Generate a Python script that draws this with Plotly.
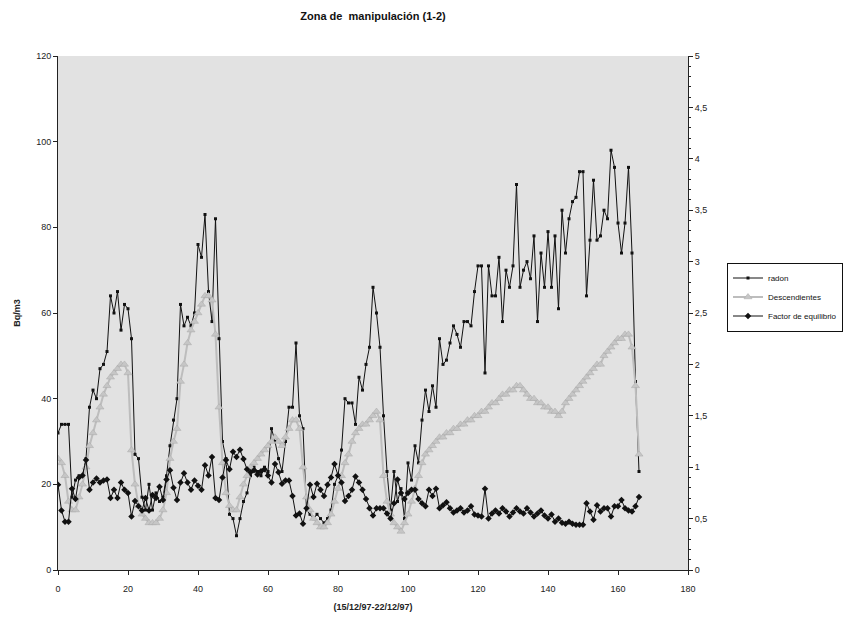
import plotly.graph_objects as go

radon = [32, 34, 34, 34, 17, 21, 22, 22, 26, 38, 42, 40, 47, 48, 51, 64, 60, 65, 56, 62,
         61, 54, 27, 26, 17, 14, 20, 14, 18, 16, 17, 22, 29, 35, 40, 62, 57, 59, 57, 60,
         76, 73, 83, 65, 58, 82, 54, 30, 26, 13, 12, 8, 12, 16, 18, 22, 24, 23, 22, 24,
         23, 33, 30, 26, 23, 30, 38, 38, 53, 36, 33, 14, 13, 12, 13, 12, 11, 12, 14, 20,
         22, 28, 40, 39, 39, 34, 45, 42, 48, 52, 66, 60, 52, 36, 23, 14, 23, 16, 19, 12,
         25, 21, 29, 25, 35, 42, 37, 43, 38, 54, 48, 49, 53, 57, 55, 52, 58, 58, 57, 65,
         71, 71, 46, 71, 64, 64, 73, 58, 70, 66, 71, 90, 66, 70, 72, 68, 78, 58, 74, 66,
         79, 66, 78, 61, 84, 74, 82, 86, 87, 93, 93, 64, 77, 91, 77, 78, 84, 82, 98, 94,
         81, 74, 81, 94, 74, 44, 23]

descendientes = [26, 25, 22, 16, 14, 14, 17, 20, 24, 29, 32, 35, 38, 41, 43, 45, 46, 47, 48, 48,
                 46, 28, 20, 15, 13, 12, 11, 11, 11, 12, 14, 18, 26, 30, 33, 44, 48, 53, 56, 58,
                 60, 62, 64, 64, 63, 55, 38, 25, 18, 15, 14, 14, 17, 20, 22, 24, 25, 26, 27, 28,
                 29, 30, 31, 30, 29, 31, 33, 35, 35, 33, 24, 17, 14, 12, 11, 10, 10, 11, 13, 16,
                 19, 22, 25, 27, 30, 32, 33, 34, 34, 35, 36, 37, 35, 22, 16, 13, 11, 10, 9, 11,
                 13, 16, 19, 22, 25, 27, 28, 29, 30, 31, 31, 32, 32, 33, 33, 34, 34, 35, 35, 36,
                 36, 37, 37, 38, 39, 39, 40, 41, 41, 42, 42, 43, 43, 42, 41, 40, 40, 39, 39, 38,
                 38, 37, 37, 36, 37, 39, 40, 41, 42, 43, 44, 45, 46, 47, 48, 48, 50, 51, 52, 53,
                 54, 54, 55, 55, 52, 43, 27]

factor = [0.83, 0.58, 0.47, 0.47, 0.79, 0.69, 0.90, 0.92, 1.07, 0.78, 0.85, 0.89, 0.85, 0.87, 0.88, 0.70, 0.78, 0.70, 0.85, 0.78,
          0.75, 0.52, 0.67, 0.62, 0.58, 0.70, 0.58, 0.73, 0.70, 0.81, 0.68, 0.88, 0.97, 0.80, 0.68, 0.85, 0.94, 0.85, 0.78, 0.87,
          0.82, 0.78, 1.02, 0.92, 1.10, 0.70, 0.68, 0.90, 1.07, 0.98, 1.15, 1.10, 1.17, 1.08, 0.98, 0.95, 0.97, 0.93, 0.96, 0.98,
          0.92, 0.85, 1.03, 0.95, 0.84, 0.87, 0.87, 0.72, 0.53, 0.55, 0.45, 0.60, 0.83, 0.71, 0.84, 0.78, 0.72, 0.83, 0.90, 1.03,
          0.92, 0.85, 0.67, 0.72, 0.78, 0.91, 0.85, 0.78, 0.69, 0.60, 0.53, 0.60, 0.60, 0.60, 0.55, 0.50, 0.65, 0.88, 0.75, 0.69,
          0.75, 0.78, 0.78, 0.69, 0.65, 0.62, 0.78, 0.72, 0.79, 0.60, 0.63, 0.66, 0.60, 0.56, 0.58, 0.60, 0.56, 0.58, 0.62, 0.54,
          0.53, 0.52, 0.79, 0.50, 0.55, 0.58, 0.55, 0.60, 0.57, 0.52, 0.56, 0.60, 0.57, 0.55, 0.60, 0.56, 0.52, 0.55, 0.58, 0.53,
          0.50, 0.54, 0.47, 0.50, 0.46, 0.45, 0.47, 0.45, 0.44, 0.44, 0.44, 0.65, 0.57, 0.49, 0.63, 0.57, 0.60, 0.60, 0.52, 0.62,
          0.62, 0.68, 0.60, 0.58, 0.57, 0.62, 0.71]

x_r = list(range(len(radon)))
x_d = list(range(len(descendientes)))
x_f = list(range(len(factor)))

FONT = "Liberation Sans"
W, H = 851, 619

fig = go.Figure()
fig.add_trace(go.Scatter(
    x=x_r, y=radon, name="radon", mode="lines+markers",
    line=dict(color="#111111", width=1),
    marker=dict(symbol="square", size=3, color="#111111"),
))
fig.add_trace(go.Scatter(
    x=x_d, y=descendientes, name="Descendientes", mode="lines+markers",
    line=dict(color="#bdbdbd", width=2),
    marker=dict(symbol="triangle-up", size=7, color="#c6c6c6",
                line=dict(color="#a8a8a8", width=0.5)),
))
fig.add_trace(go.Scatter(
    x=x_f, y=factor, name="Factor de equilibrio", mode="lines+markers", yaxis="y2",
    line=dict(color="#111111", width=1),
    marker=dict(symbol="diamond", size=5, color="#111111"),
))

axis_common = dict(
    showgrid=False, zeroline=False, showline=True, linecolor="#222222", linewidth=1,
    ticks="outside", ticklen=4, tickcolor="#222222", automargin=False,
    tickfont=dict(family=FONT, size=9, color="#222222"),
)

fig.update_layout(
    width=W, height=H,
    margin=dict(l=58, r=163, t=56, b=49, autoexpand=False),
    paper_bgcolor="white",
    plot_bgcolor="#e2e2e2",
    separators=", ",
    title=dict(text="<b>Zona de  manipulación (1-2)</b>", x=373/W, xanchor="center",
               y=1 - 16/H, yanchor="middle",
               font=dict(family=FONT, size=11, color="#111111")),
    xaxis=dict(range=[0, 180], dtick=20, tick0=0, ticklabelstandoff=6,
               title=dict(text="<b>(15/12/97-22/12/97)</b>", standoff=10,
                          font=dict(family=FONT, size=9, color="#222222")),
               **axis_common),
    yaxis=dict(range=[0, 120], dtick=20, tick0=0,
               title=dict(text="<b>Bq/m3</b>", standoff=14,
                          font=dict(family=FONT, size=9, color="#222222")),
               **axis_common),
    yaxis2=dict(range=[0, 5], dtick=0.5, tick0=0, overlaying="y", side="right",
                minor=dict(dtick=0.1, ticklen=2, ticks="outside", tickcolor="#222222"),
                **axis_common),
    showlegend=True,
    legend=dict(xref="container", yref="container",
                x=727 / W, y=1 - 297 / H, xanchor="left", yanchor="middle",
                bgcolor="white", bordercolor="#111111", borderwidth=1,
                font=dict(family=FONT, size=8, color="#111111"),
                itemwidth=30, tracegroupgap=0),
)

fig.write_html("out.html")
